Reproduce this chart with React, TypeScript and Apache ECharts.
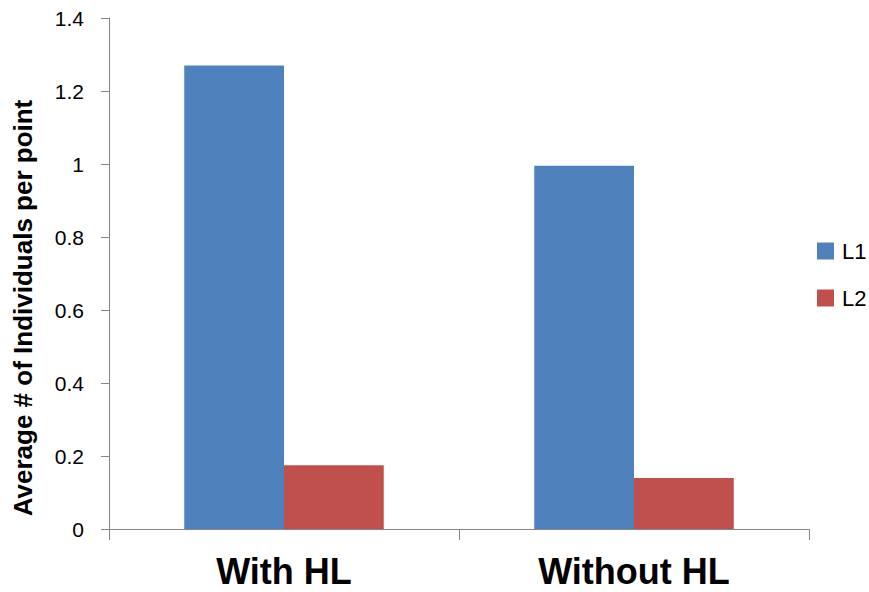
import React, { useEffect, useRef } from "react";
import * as echarts from "echarts";

// Average number of individuals per point, by treatment and series
const categories = ["With HL", "Without HL"];
const l1Values = [1.27, 0.995];
const l2Values = [0.175, 0.14];
const yTicks = { min: 0, max: 1.4, interval: 0.2 };
const yTitle = "Average # of Individuals per point";

const FONT = "'Liberation Sans', Arial, sans-serif";
const AXIS_GREY = "#868686";

export default function App() {
  const ref = useRef<HTMLDivElement>(null);

  useEffect(() => {
    if (!ref.current) return;
    const chart = echarts.init(ref.current, undefined, { renderer: "svg" });
    chart.setOption({
      animation: false,
      backgroundColor: "#ffffff",
      textStyle: { fontFamily: FONT },
      grid: { left: 109, right: 60, top: 18, bottom: 63, containLabel: false },
      legend: {
        orient: "vertical",
        left: 817,
        top: 240,
        padding: 0,
        itemWidth: 17,
        itemHeight: 17,
        itemGap: 25,
        icon: "rect",
        selectedMode: false,
        textStyle: { fontFamily: FONT, fontSize: 22, color: "#000", padding: [0, 0, 0, 3] },
        data: ["L1", "L2"],
      },
      xAxis: {
        type: "category",
        data: categories,
        boundaryGap: true,
        axisLine: { lineStyle: { color: AXIS_GREY, width: 1 } },
        axisTick: { show: true, length: 11, lineStyle: { color: AXIS_GREY } },
        axisLabel: {
          margin: 24,
          fontFamily: FONT,
          fontSize: 36,
          fontWeight: "bold",
          color: "#000",
        },
        splitLine: { show: false },
      },
      yAxis: {
        type: "value",
        min: yTicks.min,
        max: yTicks.max,
        interval: yTicks.interval,
        axisLine: { show: true, lineStyle: { color: AXIS_GREY, width: 1 } },
        axisTick: { show: true, length: 8, lineStyle: { color: AXIS_GREY } },
        splitLine: { show: false },
        axisLabel: {
          margin: 25,
          fontFamily: FONT,
          fontSize: 21,
          color: "#000",
          formatter: (v: number) => String(Math.round(v * 10) / 10),
        },
      },
      graphic: [
        {
          type: "text",
          x: 23,
          y: 308,
          rotation: Math.PI / 2,
          style: {
            text: yTitle,
            fontFamily: FONT,
            fontSize: 26,
            fontWeight: "bold",
            fill: "#000",
            align: "center",
            verticalAlign: "middle",
          },
        },
      ],
      series: [
        {
          name: "L1",
          type: "bar",
          data: l1Values,
          barGap: "0%",
          barCategoryGap: "43%",
          itemStyle: { color: "#4F81BD" },
        },
        {
          name: "L2",
          type: "bar",
          data: l2Values,
          barGap: "0%",
          barCategoryGap: "43%",
          itemStyle: { color: "#C0504D" },
        },
      ],
    });
    return () => chart.dispose();
  }, []);

  return <div ref={ref} style={{ width: 869, height: 592, position: "absolute", left: 0, top: 0 }} />;
}
